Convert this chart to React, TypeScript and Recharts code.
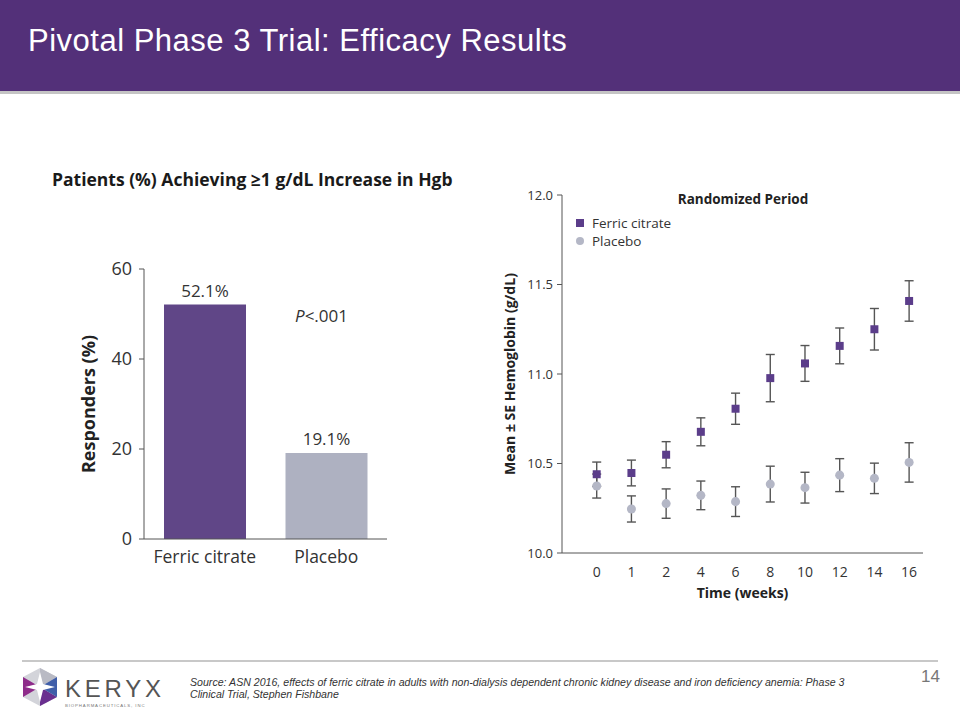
import React from 'react';
import {
  BarChart, Bar, Cell, XAxis, YAxis, LabelList, Label,
  ScatterChart, Scatter, ErrorBar, Legend,
} from 'recharts';

// ---------------------------------------------------------------------------
// Data
// ---------------------------------------------------------------------------

const GROUPS = ['Ferric citrate', 'Placebo'];
const RESPONDERS = [52.1, 19.1];
const RESP_TICKS = [0, 20, 40, 60];

const WEEKS = ['0', '1', '2', '4', '6', '8', '10', '12', '14', '16'];
const FC_MEAN = [10.44, 10.447, 10.549, 10.677, 10.806, 10.977, 11.059, 11.157, 11.25, 11.408];
const FC_SE = [0.068, 0.072, 0.073, 0.078, 0.087, 0.132, 0.1, 0.1, 0.116, 0.113];
const PL_MEAN = [10.374, 10.246, 10.276, 10.322, 10.287, 10.385, 10.365, 10.435, 10.417, 10.506];
const PL_SE = [0.067, 0.073, 0.082, 0.08, 0.083, 0.1, 0.086, 0.092, 0.085, 0.11];
const HGB_TICKS = [10, 10.5, 11, 11.5, 12];

const PURPLE = '#533079';
const FC_COLOR = '#604687';
const PL_COLOR = '#aeb1c1';
const FC_DOT = '#5b3d8a';
const PL_DOT = '#b4b7c6';
const FONT = '"Open Sans", Arial, sans-serif';
const ARIAL = '"Liberation Sans", Arial, sans-serif';

const barData = GROUPS.map((g, i) => ({ name: g, value: RESPONDERS[i] }));
const fcData = WEEKS.map((_, i) => ({ x: i, y: FC_MEAN[i], err: FC_SE[i] }));
const plData = WEEKS.map((_, i) => ({ x: i, y: PL_MEAN[i], err: PL_SE[i] }));

// ---------------------------------------------------------------------------
// Charts
// ---------------------------------------------------------------------------

const RespondersChart: React.FC = () => (
  <BarChart
    width={380}
    height={340}
    data={barData}
    margin={{ top: 29, right: 33, left: 0, bottom: 0 }}
    style={{ fontFamily: FONT }}
  >
    <XAxis
      dataKey="name"
      height={41}
      tickLine={false}
      tickMargin={6}
      axisLine={{ stroke: '#555' }}
      tick={{ fontSize: 17.5, fill: '#333' }}
    />
    <YAxis
      width={104}
      domain={[0, 60]}
      ticks={RESP_TICKS}
      tickSize={5}
      tickMargin={7}
      axisLine={{ stroke: '#555' }}
      tickLine={{ stroke: '#555' }}
      tick={{ fontSize: 18, fill: '#333' }}
    >
      <Label
        value="Responders (%)"
        angle={-90}
        position="center"
        dx={-3}
        style={{ fontSize: 18, fontWeight: 700, fill: '#222' }}
      />
    </YAxis>
    <Bar dataKey="value" barSize={82} isAnimationActive={false}>
      {barData.map((_, i) => (
        <Cell key={i} fill={i === 0 ? FC_COLOR : PL_COLOR} />
      ))}
      <LabelList
        dataKey="value"
        position="top"
        offset={8}
        formatter={(v: number) => `${v}%`}
        style={{ fontSize: 17, fill: '#333' }}
      />
    </Bar>
  </BarChart>
);

// legend drawn as a stacked list; centred/middle so it does not push the plot area
const HgbLegend: React.FC<{ payload?: any[] }> = ({ payload = [] }) => (
  <div style={{ fontSize: 13.5, lineHeight: '18px', color: '#333', fontFamily: FONT }}>
    {payload.map((p, i) => (
      <div key={i} style={{ display: 'flex', alignItems: 'center', whiteSpace: 'nowrap', height: 18 }}>
        <span
          style={{
            display: 'inline-block', width: 8, height: 8, marginRight: 8, background: p.color,
            borderRadius: p.type === 'circle' ? '50%' : 0,
          }}
        />
        {p.value}
      </div>
    ))}
  </div>
);

const HemoglobinChart: React.FC = () => (
  <ScatterChart
    width={440}
    height={430}
    margin={{ top: 15, right: 17, left: 0, bottom: 0 }}
    style={{ fontFamily: FONT }}
  >
    <XAxis
      type="number"
      dataKey="x"
      domain={[-1, 9.4]}
      ticks={WEEKS.map((_, i) => i)}
      tickFormatter={(i: number) => WEEKS[i]}
      height={57}
      tickLine={false}
      tickMargin={8}
      axisLine={{ stroke: '#555' }}
      tick={{ fontSize: 14, fill: '#333' }}
    >
      <Label
        value="Time (weeks)"
        position="center"
        dy={12}
        style={{ fontSize: 14, fontWeight: 700, fill: '#222' }}
      />
    </XAxis>
    <YAxis
      type="number"
      dataKey="y"
      width={62}
      domain={[10, 12]}
      ticks={HGB_TICKS}
      tickFormatter={(v: number) => v.toFixed(1)}
      tickSize={5}
      tickMargin={4}
      axisLine={{ stroke: '#555' }}
      tickLine={{ stroke: '#555' }}
      tick={{ fontSize: 13, fill: '#333' }}
    >
      <Label
        value="Mean ± SE Hemoglobin (g/dL)"
        angle={-90}
        position="center"
        dx={-21}
        style={{ fontSize: 14, fontWeight: 700, fill: '#222' }}
      />
    </YAxis>
    <Legend
      layout="horizontal"
      verticalAlign="middle"
      align="center"
      content={<HgbLegend />}
      wrapperStyle={{ top: 34, left: 76, width: 150 }}
    />
    <Scatter name="Ferric citrate" data={fcData} fill={FC_DOT} shape="square" legendType="square" isAnimationActive={false}>
      <ErrorBar dataKey="err" direction="y" width={4.5} stroke="#555" strokeWidth={1.4} />
    </Scatter>
    <Scatter name="Placebo" data={plData} fill={PL_DOT} shape="circle" legendType="circle" isAnimationActive={false}>
      <ErrorBar dataKey="err" direction="y" width={4.5} stroke="#555" strokeWidth={1.4} />
    </Scatter>
  </ScatterChart>
);

// ---------------------------------------------------------------------------
// Slide
// ---------------------------------------------------------------------------

const Logo: React.FC = () => (
  <svg width={150} height={50} style={{ position: 'absolute', left: 20, top: 666 }}>
    <polygon points="20,2 37,11 37,31 20,40 3,31 3,11" fill="#d3d4da" />
    <polygon points="20,2 37,11 20,21" fill="#b9bac4" />
    <polygon points="3,11 20,21 3,31" fill="#8e2c8a" />
    <polygon points="20,21 37,31 20,40" fill="#6a2f8f" />
    <polygon points="20,21 37,11 37,31" fill="#3f5ea9" />
    <polygon points="20,6 23,18 35,21 23,24 20,36 17,24 5,21 17,18" fill="#fff" />
    <text x={45} y={31} fontFamily={ARIAL} fontSize={24} fill="#555" letterSpacing={3.8}>
      KERYX
    </text>
    <text x={45} y={41} fontFamily={ARIAL} fontSize={4.3} fill="#777" letterSpacing={0.9}>
      BIOPHARMACEUTICALS, INC
    </text>
  </svg>
);

const App: React.FC = () => (
  <div
    style={{
      position: 'absolute', left: 0, top: 0, width: 960, height: 720,
      background: '#fff', overflow: 'hidden', fontFamily: FONT,
    }}
  >
    <div style={{ position: 'absolute', left: 0, top: 0, width: 960, height: 91, background: PURPLE }} />
    <div style={{ position: 'absolute', left: 0, top: 91, width: 960, height: 3, background: '#c4c4c4' }} />
    <div
      style={{
        position: 'absolute', left: 28, top: 23, color: '#fff', fontSize: 31,
        fontFamily: ARIAL, whiteSpace: 'nowrap', letterSpacing: 0.5,
      }}
    >
      Pivotal Phase 3 Trial: Efficacy Results
    </div>

    <div
      style={{
        position: 'absolute', left: 52, top: 167, fontSize: 17.5, fontWeight: 700,
        color: '#1a1a1a', whiteSpace: 'nowrap',
      }}
    >
      Patients (%) Achieving ≥1 g/dL Increase in Hgb
    </div>

    <div style={{ position: 'absolute', left: 40, top: 240 }}>
      <RespondersChart />
    </div>
    <div style={{ position: 'absolute', left: 295, top: 304, fontSize: 17, color: '#333', whiteSpace: 'nowrap' }}>
      <i>P</i>&lt;.001
    </div>

    <div style={{ position: 'absolute', left: 500, top: 180 }}>
      <HemoglobinChart />
    </div>
    <div
      style={{
        position: 'absolute', left: 643, top: 190, width: 200, textAlign: 'center',
        fontSize: 13.5, fontWeight: 700, color: '#222',
      }}
    >
      Randomized Period
    </div>

    <div style={{ position: 'absolute', left: 22, top: 660, width: 916, height: 2, background: '#c8c8c8' }} />
    <Logo />
    <div
      style={{
        position: 'absolute', left: 190, top: 676, fontSize: 10.6, lineHeight: '12px',
        fontStyle: 'italic', color: '#333', fontFamily: ARIAL, whiteSpace: 'nowrap',
      }}
    >
      Source: ASN 2016, effects of ferric citrate in adults with non-dialysis dependent chronic kidney disease and iron
      deficiency anemia: Phase 3
      <br />
      Clinical Trial, Stephen Fishbane
    </div>
    <div style={{ position: 'absolute', left: 921, top: 667, fontSize: 17, color: '#777', fontFamily: ARIAL }}>
      14
    </div>
  </div>
);

export default App;
